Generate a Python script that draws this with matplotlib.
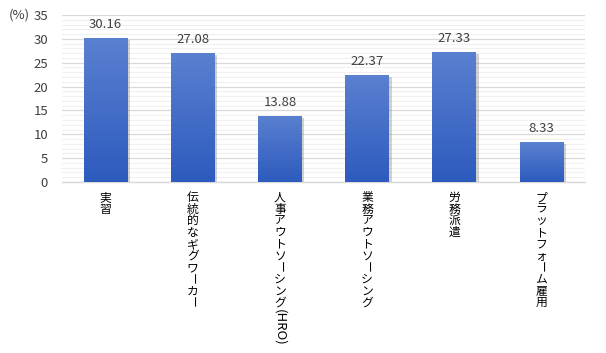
import numpy as np
import matplotlib
matplotlib.use("Agg")
import matplotlib.pyplot as plt
import matplotlib.patheffects as pe
from matplotlib.colors import LinearSegmentedColormap

plt.rcParams["font.family"] = ["Noto Sans CJK JP", "DejaVu Sans"]

# ---------- Data ----------
categories = ["実習", "伝統的なギグワーカー", "人事アウトソーシング(HRO)",
              "業務アウトソーシング", "労務派遣", "プラットフォーム雇用"]
values = [30.16, 27.08, 13.88, 22.37, 27.33, 8.33]
yticks = [0, 5, 10, 15, 20, 25, 30, 35]

TEXT = "#404040"
BAR_CMAP = LinearSegmentedColormap.from_list("bar", ["#2d5bbe", "#5a80d0"])


def vertical_label(ax, x, text, size=8.5, step=11.7, start=9):
    """Draw text top-to-bottom like Japanese vertical writing."""
    off = -start
    i = 0
    while i < len(text):
        ch = text[i]
        if ch == "(":
            run = text[i:text.index(")", i) + 1]
            ax.annotate(run, xy=(x, 0), xycoords=("data", "axes fraction"),
                        xytext=(0, off - 1), textcoords="offset pixels",
                        ha="center", va="top", rotation=-90,
                        fontsize=9.5, color="black")
            break
        rot = -90 if ch == "ー" else 0
        ax.annotate(ch, xy=(x, 0), xycoords=("data", "axes fraction"),
                    xytext=(0, off), textcoords="offset pixels",
                    ha="center", va="top", rotation=rot,
                    fontsize=size, color="black")
        off -= step
        i += 1


fig = plt.figure(figsize=(6.06, 3.53), dpi=100)
ax = fig.add_axes([62 / 606, 1 - 182 / 353, 523 / 606, 167 / 353])

x = np.arange(len(categories))

# grid: major every 5, minor every 1
ax.set_yticks(yticks)
ax.set_yticks(np.arange(0, 36, 1), minor=True)
ax.grid(axis="y", which="major", color="#d9d9d9", linewidth=0.9, zorder=0)
ax.grid(axis="y", which="minor", color="#f0f0f0", linewidth=0.8, zorder=0)
ax.tick_params(axis="y", which="both", length=0, labelsize=9.5,
               labelcolor=TEXT, pad=10)
ax.set_xticks([])

for s in ["top", "right", "left"]:
    ax.spines[s].set_visible(False)
ax.spines["bottom"].set_color("#d9d9d9")
ax.spines["bottom"].set_linewidth(1.0)

bars = ax.bar(x, values, width=0.5, color="#4670c8", zorder=2,
              path_effects=[pe.SimplePatchShadow(offset=(2, -1.5),
                                                 shadow_rgbFace="#808080",
                                                 alpha=0.35),
                            pe.Normal()])

grad = np.linspace(0, 1, 256).reshape(-1, 1)
for bar, v in zip(bars, values):
    bx = bar.get_x()
    im = ax.imshow(grad, extent=(bx, bx + bar.get_width(), 0, v),
                   origin="lower", cmap=BAR_CMAP, aspect="auto", zorder=3)
    im.set_clip_path(bar)
    ax.annotate(f"{v:.2f}", xy=(bar.get_x() + bar.get_width() / 2, v),
                xytext=(0, 7), textcoords="offset pixels",
                ha="center", va="bottom", fontsize=9.5, color=TEXT)

ax.set_xlim(-0.5, len(categories) - 0.5)
ax.set_ylim(0, 35)

for xi, label in zip(x, categories):
    vertical_label(ax, xi, label)

ax.annotate("(%)", xy=(0, 1), xycoords="axes fraction",
            xytext=(-32, 0), textcoords="offset pixels",
            ha="right", va="center", fontsize=9.5, color=TEXT)

fig.savefig("out.png", dpi=100, facecolor="white")
